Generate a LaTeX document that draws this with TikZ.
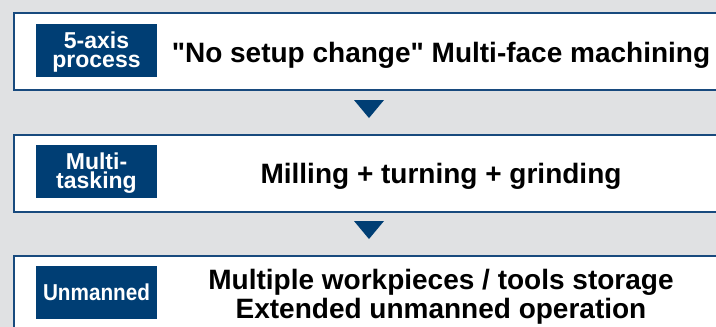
\documentclass[tikz,border=0pt]{standalone}
\usepackage{fontspec}
\setmainfont{Liberation Sans}[Ligatures=TeXOff]
\definecolor{bgGray}{RGB}{224,225,227}
\definecolor{frameBlue}{RGB}{24,74,126}
\definecolor{tagBlue}{RGB}{0,62,116}
\tikzstyle{stageBox}=[draw = frameBlue, line width = 1.8pt, fill = white, anchor = north west, minimum width = 712pt, minimum height = 77pt, inner sep = 0pt]
\tikzstyle{tagBox}=[fill = tagBlue, minimum width = 121pt, minimum height = 53pt, inner sep = 0pt]
\tikzstyle{tagText}=[text = white, inner sep = 0pt, align = center, font = \bfseries\fontsize{23}{19}\selectfont]
\tikzstyle{mainText}=[align = center, inner sep = 0pt, font = \bfseries\fontsize{28}{29}\selectfont]
\tikzstyle{arrowTri}=[fill = tagBlue]

\begin{document}
\begin{tikzpicture}[x = 1pt, y = -1pt]
\useasboundingbox[fill = bgGray] (0,0) rectangle (716,327);
\clip (0,0) rectangle (716,327);
% stages
\node[stageBox] (s1) at (13,12) {};
\node[stageBox] (s2) at (13,134) {};
\node[stageBox] (s3) at (13,255) {};
\node[tagBox] (g1) at (96.5,50.5) {};
\node[tagBox] (g2) at (96.5,171.5) {};
\node[tagBox] (g3) at (96.5,292) {};
\node[tagText] (l1) at ([yshift=-2pt]g1.center) {5-axis\\process};
\node[tagText] (l2) at ([yshift=-2pt]g2.center) {Multi-\\tasking};
\node[tagText] (l3) at (g3.center) {\scalebox{0.9}[1]{Unmanned}};
\node[mainText] (t1) at (441,55) {"No setup change" Multi-face machining};
\node[mainText] (t2) at (441,176) {Milling + turning + grinding};
\node[mainText] (t3) at (441,297) {Multiple workpieces / tools storage\\Extended unmanned operation};
% arrows
\coordinate (a1) at (369,100);
\coordinate (a2) at (369,221);
\fill[arrowTri] (a1) ++(-15,0) -- ++(30,0) -- ++(-15,18) -- cycle;
\fill[arrowTri] (a2) ++(-15,0) -- ++(30,0) -- ++(-15,18) -- cycle;
%
\end{tikzpicture}
\end{document}
